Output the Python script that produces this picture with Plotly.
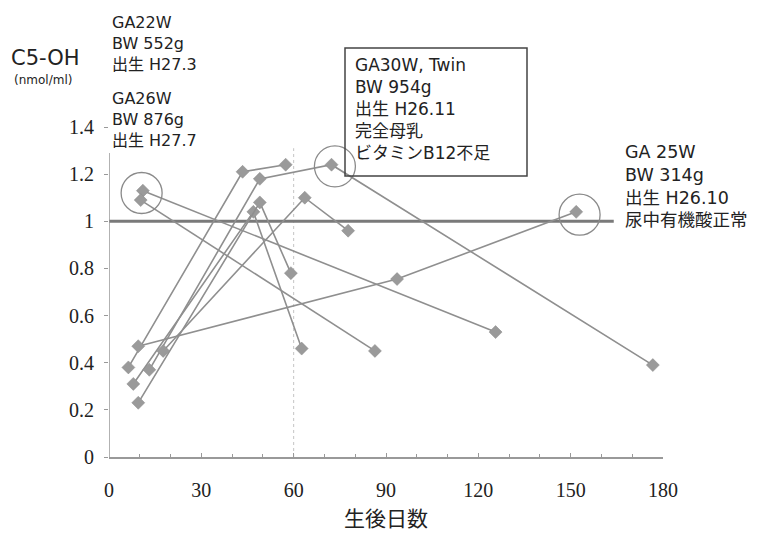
import plotly.graph_objects as go

# ---- data (days after birth, C5-OH nmol/ml) ----
s1_x = [6.3, 43.4, 57.4]
s1_y = [0.38, 1.21, 1.24]
s2_x = [7.9, 46.9, 62.6]
s2_y = [0.31, 1.04, 0.46]
s3_x = [9.5, 49.0, 59.1]
s3_y = [0.23, 1.08, 0.78]
s4_x = [13.1, 49.0, 72.3, 176.7]
s4_y = [0.37, 1.18, 1.24, 0.39]
s5_x = [17.6, 63.6, 77.7]
s5_y = [0.45, 1.10, 0.96]
s6_x = [11.0, 125.6]
s6_y = [1.13, 0.53]
s7_x = [10.3, 86.4]
s7_y = [1.09, 0.45]
s8_x = [9.5, 93.6, 151.8]
s8_y = [0.47, 0.755, 1.04]

ref_x = [0, 164]
ref_y = [1, 1]
vline_x = [60, 60]
vline_y = [0, 1.31]
circle_x = [10.6, 73.4, 152.9]
circle_y = [1.12, 1.233, 1.028]

x_ticks = [0, 30, 60, 90, 120, 150, 180]
y_ticks = [0, 0.2, 0.4, 0.6, 0.8, 1, 1.2, 1.4]
y_tick_text = ["0", "0.2", "0.4", "0.6", "0.8", "1", "1.2", "1.4"]

note_22 = ["GA22W", "BW 552g", "出生 H27.3"]
note_26 = ["GA26W", "BW 876g", "出生 H27.7"]
note_30 = ["GA30W, Twin", "BW 954g", "出生 H26.11", "完全母乳", "ビタミンB12不足"]
note_25 = ["GA 25W", "BW 314g", "出生 H26.10", "尿中有機酸正常"]

W, H = 761, 541
L, R, T, B = 109, 663, 127, 457

def px(xp):
    return (xp - L) / (R - L)

def py(yp):
    return (B - yp) / (B - T)

FONT = "DejaVu Sans, Noto Sans CJK JP"
JP = "Noto Sans CJK JP"
LINE = "#8f8f8f"
MARK = "#9a9a9a"
TXT = "#222222"

fig = go.Figure()

fig.add_trace(go.Scatter(x=vline_x, y=vline_y, mode="lines",
                         line=dict(color="#c4c4c4", width=1, dash="dot"),
                         hoverinfo="skip", showlegend=False))
fig.add_trace(go.Scatter(x=ref_x, y=ref_y, mode="lines",
                         line=dict(color="#7a7a7a", width=3),
                         hoverinfo="skip", showlegend=False))

for sx, sy in [(s1_x, s1_y), (s2_x, s2_y), (s3_x, s3_y), (s4_x, s4_y),
               (s5_x, s5_y), (s6_x, s6_y), (s7_x, s7_y), (s8_x, s8_y)]:
    fig.add_trace(go.Scatter(x=sx, y=sy, mode="lines+markers",
                             line=dict(color=LINE, width=1.6),
                             marker=dict(symbol="diamond", size=10, color=MARK,
                                         line=dict(color="#8a8a8a", width=0.5)),
                             showlegend=False))

fig.add_trace(go.Scatter(x=circle_x, y=circle_y, mode="markers",
                         marker=dict(symbol="circle-open", size=41,
                                     color="#8a8a8a", line=dict(width=1.3)),
                         hoverinfo="skip", showlegend=False))

fig.add_shape(type="line", x0=0, x1=0, y0=0, y1=1.29, xref="x", yref="y",
              line=dict(color="#999999", width=1.5))

annotations = []

def add_block(lines, x_left, y_top, size):
    annotations.append(dict(
        text="<br>".join(lines), x=px(x_left), y=py(y_top),
        xref="paper", yref="paper", xanchor="left", yanchor="top", align="left",
        showarrow=False, font=dict(family=FONT, size=size, color=TXT)))

add_block(note_22, 110, 11, 16)
add_block(note_26, 110, 87, 16)
add_block(note_30, 353, 53, 17)
add_block(note_25, 623, 140, 17.5)

annotations.append(dict(text="C5-OH", x=px(45), y=py(58), xref="paper", yref="paper",
                        xanchor="center", yanchor="middle", showarrow=False,
                        font=dict(family="DejaVu Sans", size=21, color=TXT)))
annotations.append(dict(text="(nmol/ml)", x=px(43), y=py(80), xref="paper", yref="paper",
                        xanchor="center", yanchor="middle", showarrow=False,
                        font=dict(family="DejaVu Sans", size=12, color=TXT)))

fig.add_shape(type="rect", xref="paper", yref="paper",
              x0=px(345), x1=px(527), y0=py(48), y1=py(176),
              line=dict(color="#444444", width=1.5), fillcolor="rgba(0,0,0,0)")

fig.update_layout(
    width=W, height=H,
    margin=dict(l=L, r=W - R, t=T, b=H - B, pad=0, autoexpand=False),
    paper_bgcolor="white", plot_bgcolor="white",
    annotations=annotations,
    xaxis=dict(range=[0, 180], tickvals=x_ticks, ticktext=[str(v) for v in x_ticks],
               showgrid=False, zeroline=False, showline=True, linecolor="#999999",
               linewidth=1.5, ticks="inside", ticklen=4, tickcolor="#999999",
               ticklabelstandoff=14,
               minor=dict(dtick=10, tick0=0, ticks="inside", ticklen=3, tickcolor="#999999"),
               tickfont=dict(family="Liberation Serif", size=20, color=TXT),
               title=dict(text="生後日数", font=dict(family=JP, size=21, color=TXT),
                          standoff=12)),
    yaxis=dict(range=[0, 1.4], tickvals=y_ticks, ticktext=y_tick_text,
               showgrid=False, zeroline=False, showline=False,
               ticks="outside", ticklen=4, tickcolor="#999999",
               ticklabelstandoff=6,
               tickfont=dict(family="Liberation Serif", size=20, color=TXT)),
)

fig.write_html("out.html", config={"displayModeBar": False},
               post_script="document.body.style.margin='0';")
